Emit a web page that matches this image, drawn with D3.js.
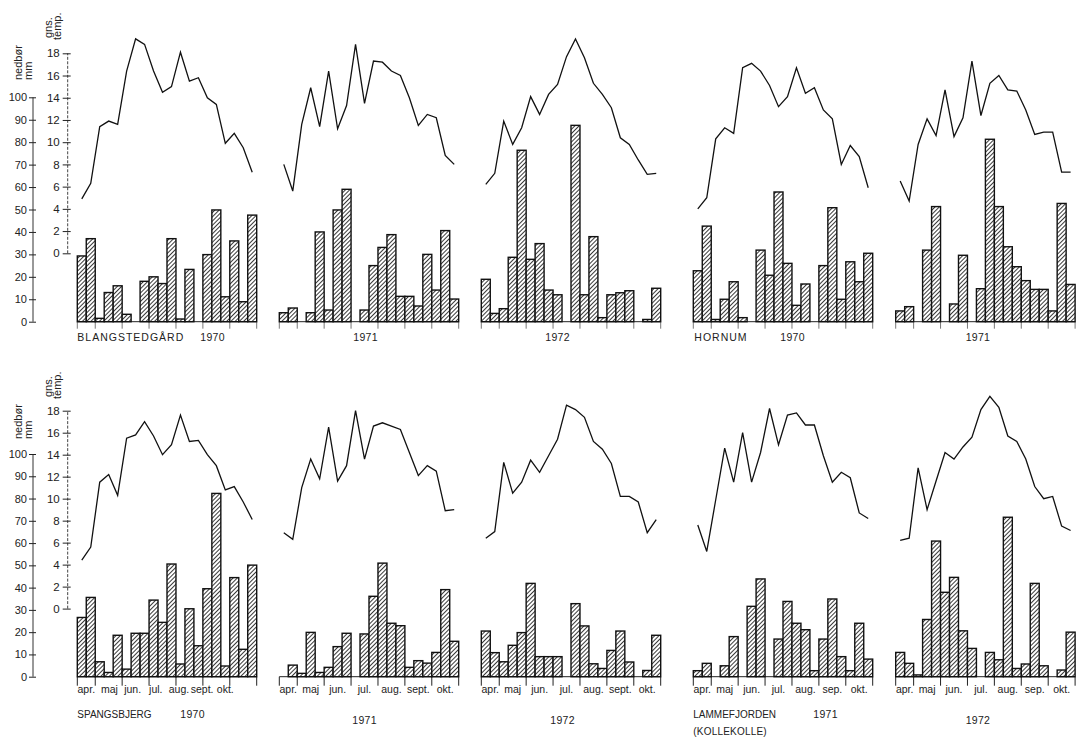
<!DOCTYPE html>
<html>
<head>
<meta charset="utf-8">
<script src="https://cdn.jsdelivr.net/npm/d3@7"></script>
<style>
  body { margin: 0; background: #fff; }
  svg { display: block; }
  text { font-family: "Liberation Sans", "DejaVu Sans", sans-serif; fill: #222; }
</style>
</head>
<body>
<svg id="chart" width="1077" height="739"></svg>
<script>
// Ten-day periods (dekader) from 11 April to 31 October: 2 in April, 3 per month after
const dekads = d3.range(20);
const monthBounds = [0, 2, 5, 8, 11, 14, 17, 20];
const monthsA = ["apr.", "maj", "jun.", "jul.", "aug.", "sept.", "okt."];
const monthsB = ["apr.", "maj", "jun.", "jul.", "aug.", "sep.", "okt."];
const precipTicks = [0, 10, 20, 30, 40, 50, 60, 70, 80, 90, 100];
const tempTicks = [0, 2, 4, 6, 8, 10, 12, 14, 16, 18];

// Nedbør (mm) and mean temperature (°C) per ten-day period; null = no record
const precipBlang1970 = [29.3, 37, 1.5, 13, 16, 3.3, null, 18, 20, 17, 37, 1.2, 23.3, null, 29.9, 49.8, 11.1, 36, 8.9, 47.5];
const tempBlang1970   = [4.9, 6.3, 11.4, 11.9, 11.6, 16.4, 19.3, 18.8, 16.4, 14.5, 15.0, 18.1, 15.5, 15.8, 14.0, 13.4, 9.9, 10.8, 9.5, 7.3];

const precipBlang1971 = [4, 6.1, null, 4, 40, 5.2, 49.8, 59, null, 5.2, 25, 33.1, 38.8, 11.3, 11.3, 7, 30, 14.1, 40.6, 10.1];
const tempBlang1971   = [8.0, 5.6, 11.6, 14.9, 11.4, 16.4, 11.2, 13.3, 18.8, 13.5, 17.3, 17.2, 16.4, 16.0, 14.0, 11.5, 12.5, 12.2, 8.8, 8.0];

const precipBlang1972 = [18.9, 3.7, 5.8, 28.7, 76.4, 27.8, 34.8, 14.1, 12, null, 87.5, 12, 37.9, 1.8, 12, 12.9, 13.8, null, 1, 14.9];
const tempBlang1972   = [6.2, 7.2, 11.9, 9.8, 11.3, 14.1, 12.5, 14.3, 15.2, 17.7, 19.3, 17.6, 15.3, 14.3, 13.1, 10.4, 9.8, 8.4, 7.1, 7.2];

const precipHornum1970 = [22.7, 42.6, 1, 10, 17.8, 1.8, null, 31.9, 20.7, 57.8, 26, 7.3, 16.8, null, 25, 50.8, 10, 26.7, 17.8, 30.5];
const tempHornum1970   = [4.0, 5.0, 10.3, 11.3, 10.8, 16.7, 17.1, 16.4, 15.1, 13.2, 14.1, 16.7, 14.4, 14.9, 12.9, 12.1, 8.0, 9.7, 8.7, 5.9];

const precipHornum1971 = [4.8, 6.7, null, 31.9, 51.3, null, 7.9, 29.6, null, 14.7, 81.3, 51.3, 33.4, 24.5, 18.3, 14.4, 14.4, 4.8, 52.7, 16.6];
const tempHornum1971   = [6.5, 4.7, 9.8, 12.1, 10.6, 14.7, 10.5, 12.2, 17.3, 12.4, 15.3, 16.0, 14.7, 14.6, 12.9, 10.7, 10.9, 10.9, 7.3, 7.3];

const precipSpang1970 = [26.6, 35.6, 6.7, 1.9, 18.6, 3.4, 19.5, 19.5, 34.4, 24.4, 50.6, 5.7, 30.5, 13.9, 39.5, 82.3, 4.8, 44.5, 12.3, 50.1];
const tempSpang1970   = [4.4, 5.6, 11.5, 12.2, 10.3, 15.5, 15.8, 17.0, 15.7, 14.0, 14.9, 17.6, 15.2, 15.3, 14.0, 13.0, 10.8, 11.1, 9.7, 8.1];

const precipSpang1971 = [null, 5.2, 1.5, 19.9, 1.9, 4.2, 13.5, 19.5, null, 19.2, 36.1, 51, 24, 22.9, 4.2, 7.2, 6.1, 10.9, 39.1, 15.9];
const tempSpang1971   = [6.9, 6.3, 11.0, 13.6, 11.8, 16.5, 11.6, 13.0, 18.0, 13.6, 16.6, 16.9, 16.6, 16.3, 14.2, 12.1, 13.0, 12.5, 8.9, 9.0];

const precipSpang1972 = [20.5, 10.8, 6.7, 14.1, 19.8, 41.9, 9, 9, 9, null, 32.8, 22.8, 5.8, 3.7, 11.8, 20.5, 6.6, null, 2.8, 18.6];
const tempSpang1972   = [6.4, 7.0, 13.3, 10.5, 11.5, 13.5, 12.4, 13.9, 15.4, 18.5, 18.1, 17.4, 15.2, 14.5, 13.2, 10.2, 10.2, 9.7, 6.9, 8.1];

const precipLamme1971 = [2.7, 6, null, 4.9, 18, null, 31.6, 43.9, null, 16.9, 33.8, 24, 21.1, 2.7, 16.9, 34.9, 9, 2.7, 24, 7.9];
const tempLamme1971   = [7.6, 5.2, 9.9, 14.6, 11.5, 16.0, 11.5, 14.2, 18.2, 14.9, 17.6, 17.8, 16.7, 16.7, 13.9, 11.5, 12.4, 11.9, 8.7, 8.2];

const precipLamme1972 = [10.9, 6, 0.8, 25.7, 60.9, 37.9, 44.6, 20.6, 12.7, null, 10.9, 7.6, 71.6, 3.7, 5.7, 41.9, 4.9, null, 3, 20];
const tempLamme1972   = [6.2, 6.4, 12.8, 9.0, 11.6, 14.2, 13.6, 14.7, 15.6, 18.1, 19.3, 18.3, 15.7, 15.2, 13.6, 11.1, 10.0, 10.2, 7.5, 7.1];

// ---- layout ----
const svg = d3.select("#chart");
const panelW = 179.4;

const rows = [
  { pBase: 321.7, pTop: 97.3, tBase: 253.3, tTop: 53.3, labelY: 338 },
  { pBase: 676.7, pTop: 454.0, tBase: 608.6, tTop: 410.7, labelY: 690 }
];

const panels = [
  { row: 0, x0: 77.3,  precip: precipBlang1970,  temp: tempBlang1970,  axes: true,
    texts: [{ t: "BLANGSTEDGÅRD", dx: 0, dy: 0, ls: 1 }, { t: "1970", dx: 123, dy: 0 }] },
  { row: 0, x0: 279.3, precip: precipBlang1971,  temp: tempBlang1971,
    texts: [{ t: "1971", dx: 74, dy: 0 }] },
  { row: 0, x0: 481.3, precip: precipBlang1972,  temp: tempBlang1972,
    texts: [{ t: "1972", dx: 64, dy: 0 }] },
  { row: 0, x0: 693.3, precip: precipHornum1970, temp: tempHornum1970,
    texts: [{ t: "HORNUM", dx: 1, dy: 0, ls: 1 }, { t: "1970", dx: 87, dy: 0 }] },
  { row: 0, x0: 895.7, precip: precipHornum1971, temp: tempHornum1971,
    texts: [{ t: "1971", dx: 70, dy: 0 }] },
  { row: 1, x0: 77.3,  precip: precipSpang1970,  temp: tempSpang1970,  axes: true, months: monthsA, compact: true,
    texts: [{ t: "SPANGSBJERG", dx: 0, dy: 25, ls: 0, fs: 10 }, { t: "1970", dx: 103, dy: 25 }] },
  { row: 1, x0: 279.3, precip: precipSpang1971,  temp: tempSpang1971,  months: monthsA,
    texts: [{ t: "1971", dx: 73, dy: 31 }] },
  { row: 1, x0: 481.3, precip: precipSpang1972,  temp: tempSpang1972,  months: monthsA,
    texts: [{ t: "1972", dx: 69, dy: 31 }] },
  { row: 1, x0: 693.3, precip: precipLamme1971,  temp: tempLamme1971,  months: monthsB,
    texts: [{ t: "LAMMEFJORDEN", dx: 0, dy: 25, ls: 0, fs: 10 }, { t: "1971", dx: 120, dy: 25 },
            { t: "(KOLLEKOLLE)", dx: 0, dy: 42, ls: 0.2, fs: 10 }] },
  { row: 1, x0: 895.7, precip: precipLamme1972,  temp: tempLamme1972,  months: monthsB,
    texts: [{ t: "1972", dx: 70, dy: 31 }] }
];

// diagonal hatching for the precipitation bars
const defs = svg.append("defs");
const pat = defs.append("pattern")
  .attr("id", "hatch")
  .attr("patternUnits", "userSpaceOnUse")
  .attr("width", 3).attr("height", 3)
  .attr("patternTransform", "rotate(45)");
pat.append("rect").attr("width", 3).attr("height", 3).attr("fill", "#fff");
pat.append("line").attr("x1", 0.5).attr("y1", 0).attr("x2", 0.5).attr("y2", 3)
  .attr("stroke", "#3a3a3a").attr("stroke-width", 1);

panels.forEach(p => {
  const r = rows[p.row];
  const g = svg.append("g");

  const xBand = d3.scaleBand().domain(dekads).range([p.x0, p.x0 + panelW]).paddingInner(0);
  const xLin = d3.scaleLinear().domain([0, 20]).range([p.x0, p.x0 + panelW]);
  const yP = d3.scaleLinear().domain([0, 100]).range([r.pBase, r.pTop]);
  const yT = d3.scaleLinear().domain([0, 18]).range([r.tBase, r.tTop]);

  // baseline and month boundary ticks
  g.append("line")
    .attr("x1", xLin(0)).attr("x2", xLin(20))
    .attr("y1", yP(0)).attr("y2", yP(0))
    .attr("stroke", "#222").attr("stroke-width", 1);
  g.selectAll("line.mtick").data(monthBounds).join("line")
    .attr("class", "mtick")
    .attr("x1", d => xLin(d)).attr("x2", d => xLin(d))
    .attr("y1", yP(0)).attr("y2", yP(0) + (p.row === 0 ? 7 : 9))
    .attr("stroke", p.row === 0 ? "#777" : "#222")
    .attr("stroke-width", 1);

  // precipitation bars
  const bars = dekads.filter(i => p.precip[i] != null);
  g.selectAll("rect.bar").data(bars).join("rect")
    .attr("class", "bar")
    .attr("x", i => xBand(i))
    .attr("width", xBand.bandwidth())
    .attr("y", i => yP(p.precip[i]))
    .attr("height", i => yP(0) - yP(p.precip[i]))
    .attr("fill", "url(#hatch)")
    .attr("stroke", "#111")
    .attr("stroke-width", 1.4);

  // mean temperature line
  const line = d3.line()
    .defined(d => d != null)
    .x((d, i) => xBand(i) + xBand.bandwidth() / 2)
    .y(d => yT(d));
  g.append("path")
    .attr("d", line(p.temp))
    .attr("fill", "none")
    .attr("stroke", "#111")
    .attr("stroke-width", 1.3)
    .attr("stroke-linejoin", "miter");

  // month names below the lower row
  if (p.months) {
    let xm;
    if (p.compact) {
      const sp = d3.scalePoint().domain(p.months).range([p.x0 + 9, p.x0 + 148]);
      xm = (m, k) => sp(m);
    } else {
      xm = (m, k) => (xLin(monthBounds[k]) + xLin(monthBounds[k + 1])) / 2;
    }
    g.selectAll("text.month").data(p.months).join("text")
      .attr("class", "month")
      .attr("x", (m, k) => xm(m, k))
      .attr("y", r.labelY)
      .attr("text-anchor", "middle")
      .attr("dominant-baseline", "middle")
      .attr("font-size", 10.5)
      .text(m => m);
  }

  // station names and years
  p.texts.forEach(t => {
    g.append("text")
      .attr("x", p.x0 + t.dx)
      .attr("y", r.labelY + t.dy)
      .attr("dominant-baseline", "middle")
      .attr("font-size", t.fs || 10.5)
      .attr("letter-spacing", t.ls != null ? t.ls : 0.3)
      .text(t.t);
  });

  // value axes on the first panel of each row
  if (p.axes) {
    const ax = g.append("g").attr("transform", "translate(33,0)")
      .call(d3.axisLeft(yP).tickValues(precipTicks).tickSize(4).tickPadding(2));
    ax.selectAll("text").attr("font-size", 11).attr("fill", "#222");
    ax.selectAll("line").attr("stroke", "#222").attr("x2", 3).attr("x1", -4);
    ax.select(".domain").attr("stroke", "#333").attr("d", `M0,${yP(0)}V${yP(100)}`);

    const at = g.append("g").attr("transform", "translate(67.7,0)")
      .call(d3.axisLeft(yT).tickValues(tempTicks).tickSize(5).tickPadding(3));
    at.selectAll("text").attr("font-size", 11.5).attr("fill", "#222");
    at.selectAll("line").attr("stroke", "#222").attr("x1", -5).attr("x2", 3);
    at.select(".domain").attr("stroke", "#444").attr("stroke-dasharray", "3,1.5")
      .attr("d", `M0,${yT(0)}V${yT(18)}`);

    const off = p.row === 0 ? 0 : 359;
    const rot = (txt, x, yEnd, fs) => g.append("text")
      .attr("transform", `translate(${x},${yEnd + off}) rotate(-90)`)
      .attr("font-size", fs)
      .text(txt);
    rot("nedbør", 22, 80, 11);
    rot("mm", 32, 80, 11);
    rot("gns.", 52, 38, 11);
    rot("temp.", 61, 40, 11);
  }
});
</script>
</body>
</html>
